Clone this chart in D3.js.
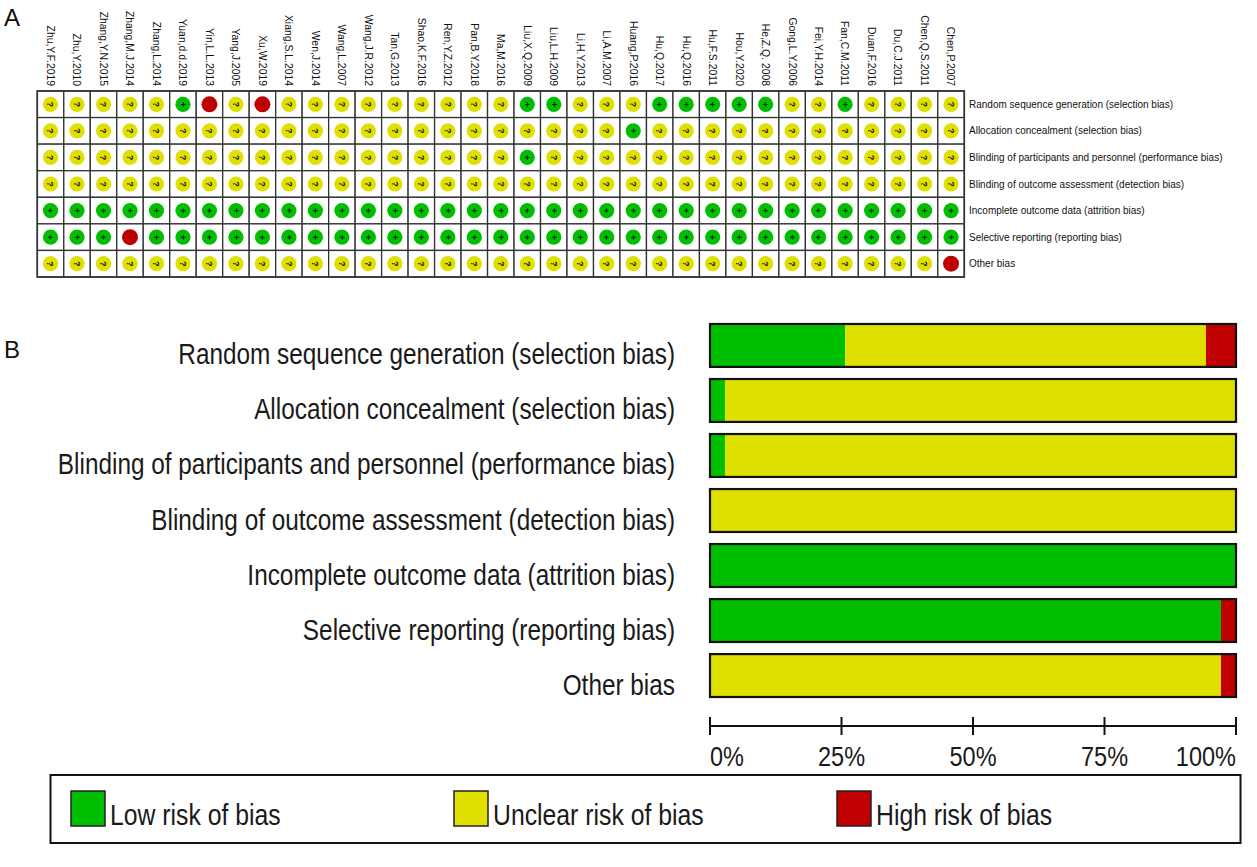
<!DOCTYPE html>
<html><head><meta charset="utf-8">
<script src="https://cdn.jsdelivr.net/npm/d3@7"></script>
<style>
html,body{margin:0;padding:0;background:#fff;}
svg{display:block;font-family:"Liberation Sans",Arial,sans-serif;}
</style></head>
<body>
<svg id="chart" width="1257" height="867"></svg>
<script>
// ---------- DATA ----------
const studies = ["Zhu,Y.F.2019","Zhu,Y.2010","Zhang,Y.N.2015","Zhang,M.J.2014","Zhang,L.2014","Yuan,d.d.2019","Yin,L.L.2013","Yang,J.2005","Xu,W.2019","Xiang,S.L.2014","Wen,J.2014","Wang,L.2007","Wang,J.R.2012","Tan,G.2013","Shao,K.F.2016","Ren,Y.Z.2012","Pan,B.Y.2018","Ma,M.2016","Liu,X.Q.2009","Liu,L.H.2009","Li,H.Y.2013","Li,A.M.2007","Huang,P.2016","Hu,Q.2017","Hu,Q.2016","Hu,F.S.2011","Hou,Y.2020","He,Z.Q. 2008","Gong,L.Y.2006","Fei,Y.H.2014","Fan,C.M.2011","Duan,F.2016","Du,C.J.2011","Chen,Q.S.2011","Chen,P.2007"];
const domains = ["Random sequence generation (selection bias)","Allocation concealment (selection bias)","Blinding of participants and personnel (performance bias)","Blinding of outcome assessment (detection bias)","Incomplete outcome data (attrition bias)","Selective reporting (reporting bias)","Other bias"];
// one string per domain, one symbol per study: + low, ? unclear, - high
const judgements = [
  "?????+-?-?????????++???+++++??+????",
  "??????????????????????+????????????",
  "??????????????????+????????????????",
  "???????????????????????????????????",
  "+++++++++++++++++++++++++++++++++++",
  "+++-+++++++++++++++++++++++++++++++",
  "??????????????????????????????????-"
];
const riskKeys = ["+","?","-"];
const riskLabels = ["Low risk of bias","Unclear risk of bias","High risk of bias"];
const axisTicks = [0,25,50,75,100];
const colors = {"+":"#00bf00","?":"#e0e000","-":"#c00000"};
</script>
<script>
const svg = d3.select("#chart");
const SQ = 0.84; // horizontal condensing of the large labels
function narrowText(g, x, y, txt, size, anchor){
  return g.append("text").attr("transform",`translate(${x},${y}) scale(${SQ},1)`)
    .attr("text-anchor",anchor||"start").attr("font-size",size).attr("fill","#1a1a1a").text(txt);
}

// ---------- PANEL A ----------
svg.append("text").attr("x",4).attr("y",26).attr("font-size",24).attr("fill","#111").text("A");

const gx = d3.scaleBand().domain(studies).range([37.3,964.3]);
const gy = d3.scaleBand().domain(domains).range([91,277]);
const gA = svg.append("g");

studies.forEach(s=>{
  domains.forEach(d=>{
    gA.append("rect").attr("x",gx(s)).attr("y",gy(d))
      .attr("width",gx.bandwidth()).attr("height",gy.bandwidth())
      .attr("fill","#fff").attr("stroke","#333").attr("stroke-width",1.3);
  });
});
gA.append("rect").attr("x",37.3).attr("y",91).attr("width",964.3-37.3).attr("height",277-91)
  .attr("fill","none").attr("stroke","#333").attr("stroke-width",1.6);

domains.forEach((d,j)=>{
  judgements[j].split("").forEach((r,i)=>{
    const cx = gx(studies[i])+gx.bandwidth()/2, cy = gy(d)+gy.bandwidth()/2;
    gA.append("circle").attr("cx",cx).attr("cy",cy).attr("r",r==="-"?8:7.6).attr("fill",colors[r]);
    gA.append("text").attr("transform",`translate(${cx},${cy}) rotate(90)`)
      .attr("text-anchor","middle").attr("dy", r==="-"?"0.1em":"0.36em")
      .attr("font-size", r==="-"?8:9).attr("font-weight","bold").attr("fill","#111")
      .text(r);
  });
});

studies.forEach(s=>{
  const x = gx(s)+gx.bandwidth()/2;
  gA.append("text").attr("transform",`translate(${x},86) rotate(90)`)
    .attr("text-anchor","end").attr("dy","0.35em").attr("font-size",10.4).attr("fill","#111").text(s);
});
domains.forEach(d=>{
  gA.append("text").attr("x",969).attr("y",gy(d)+gy.bandwidth()/2).attr("dy","0.35em")
    .attr("font-size",10).attr("fill","#111").text(d);
});

// ---------- PANEL B ----------
svg.append("text").attr("x",4).attr("y",358).attr("font-size",24).attr("fill","#111").text("B");

const x = d3.scaleLinear().domain([0,100]).range([710,1236]);
const y = d3.scaleBand().domain(domains).range([324,697]).paddingInner(0.22);
const gB = svg.append("g");

const pct = domains.map((d,j)=>{
  const arr = judgements[j].split("");
  const out = {domain:d};
  riskKeys.forEach(k=>{ out[k] = arr.filter(v=>v===k).length/arr.length*100; });
  return out;
});
d3.stack().keys(riskKeys)(pct).forEach(layer=>{
  gB.selectAll(null).data(layer).enter().append("rect")
    .attr("x",d=>x(d[0])).attr("width",d=>x(d[1])-x(d[0]))
    .attr("y",d=>y(d.data.domain)).attr("height",y.bandwidth())
    .attr("fill",colors[layer.key]);
});
gB.selectAll(null).data(domains).enter().append("rect")
  .attr("x",x(0)).attr("width",x(100)-x(0)).attr("y",d=>y(d)).attr("height",y.bandwidth())
  .attr("fill","none").attr("stroke","#111").attr("stroke-width",2.2);

domains.forEach(d=>{
  narrowText(gB, 675, y(d)+y.bandwidth()/2+19, d, 29, "end");
});

// axis
const axisY = 726;
const gAx = svg.append("g");
gAx.append("line").attr("x1",x(0)).attr("x2",x(100)).attr("y1",axisY).attr("y2",axisY)
  .attr("stroke","#111").attr("stroke-width",2);
axisTicks.forEach((t,i)=>{
  gAx.append("line").attr("x1",x(t)).attr("x2",x(t)).attr("y1",axisY-9).attr("y2",axisY+9)
    .attr("stroke","#111").attr("stroke-width",2);
  narrowText(gAx, x(t), 766, t+"%", 28, i===0?"start":(i===axisTicks.length-1?"end":"middle"));
});

// ---------- LEGEND ----------
const gL = svg.append("g");
gL.append("rect").attr("x",50.5).attr("y",775).attr("width",1190).attr("height",68)
  .attr("fill","#fff").attr("stroke","#111").attr("stroke-width",2);
const legX = [71,454,837];
riskKeys.forEach((k,i)=>{
  gL.append("rect").attr("x",legX[i]).attr("y",791).attr("width",34).attr("height",35)
    .attr("fill",colors[k]).attr("stroke","#222").attr("stroke-width",1.5);
  narrowText(gL, legX[i]+39, 825, riskLabels[i], 29.5, "start");
});
</script>
</body></html>
